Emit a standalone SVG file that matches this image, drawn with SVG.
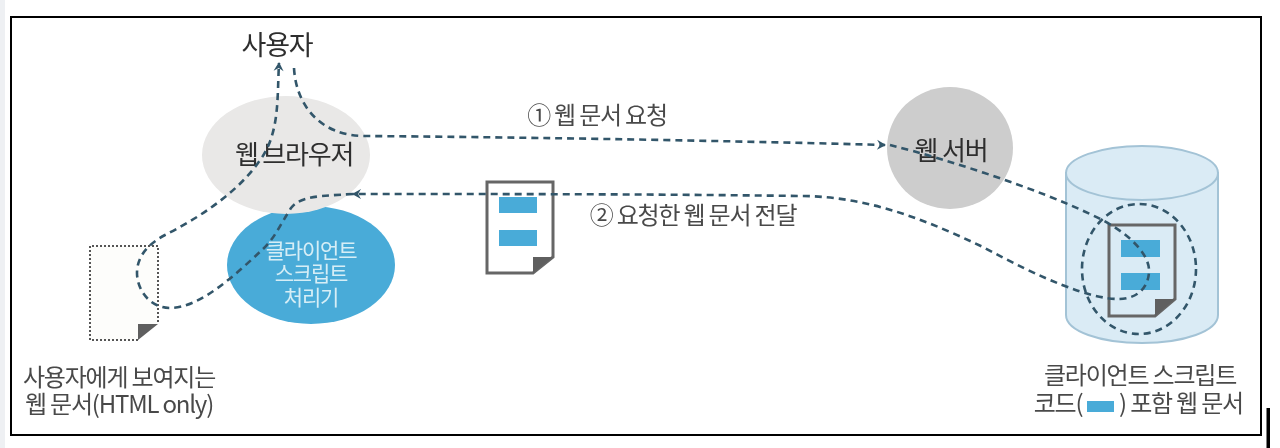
<svg xmlns="http://www.w3.org/2000/svg" width="1280" height="448" viewBox="0 0 1280 448">
<style>
text{font-family:"Noto Sans CJK KR","Noto Sans",sans-serif;text-anchor:middle;fill:#4a4a4a;font-size:24px;letter-spacing:-1.2px}
.d{fill:#2f2f2f;font-size:27px}
.m{fill:#2f2f2f;font-size:26px}
.w{fill:#d6eef6;font-size:21px}
.c{fill:none;stroke:#33566a;stroke-width:2.6;stroke-dasharray:7 5}
.doc{fill:#fff;stroke:#666;stroke-width:3}
.b{fill:#4aabd8}
.f{fill:#5f5f5f}
</style>
<defs>
<marker id="a" viewBox="0 0 12 12" refX="9" refY="6" markerWidth="12" markerHeight="12" markerUnits="userSpaceOnUse" orient="auto"><path d="M1 1L10 6L1 11L4 6Z" fill="#33566a"/></marker>
<filter id="soft" x="0" y="0" width="100%" height="100%"><feGaussianBlur stdDeviation="0.6"/></filter>
</defs>
<rect width="1280" height="448" fill="#fff"/>
<rect x="0" y="0" width="5" height="448" fill="#eef0f3"/>
<rect x="11" y="17" width="1250" height="418" fill="#fff" stroke="#000" stroke-width="2"/>
<rect x="1266.5" y="408" width="3.5" height="40" fill="#000"/>
<g filter="url(#soft)">
<g id="client-engine"><ellipse cx="311" cy="265" rx="84" ry="59" fill="#4aabd8"/>
<text class="w" x="311" y="258">클라이언트</text><text class="w" x="311" y="281">스크립트</text><text class="w" x="311" y="305">처리기</text></g>
<g id="browser"><ellipse cx="286" cy="155" rx="84" ry="59" fill="#e9e8e7"/><text class="m" x="294" y="164">웹 브라우저</text></g>
<g id="user"><text class="d" x="277" y="55">사용자</text></g>
<g id="server"><ellipse cx="950" cy="148" rx="63" ry="61" fill="#cdcdcd"/><text class="m" x="951" y="160">웹 서버</text></g>
<g id="page"><path d="M138 340H90V246H158V324" fill="#fdfdfb" stroke="#555" stroke-width="2" stroke-dasharray="2 2"/><path class="f" d="M138 340V324H158Z"/></g>
<g id="caption-page"><text x="119" y="386">사용자에게 보여지는</text><text x="119" y="413">웹 문서(HTML only)</text></g>
<g id="doc-middle"><path class="doc" d="M487 182H553V257L533 273H487Z"/><path class="f" d="M533 273V257H553Z"/><rect class="b" x="499" y="197" width="38" height="16"/><rect class="b" x="499" y="230" width="38" height="16"/></g>
<g id="label-1"><text x="597" y="124">① 웹 문서 요청</text></g>
<g id="label-2"><text x="693" y="224">② 요청한 웹 문서 전달</text></g>
<g id="database"><path d="M1066 173V315C1066 331 1100 343 1142 343S1218 331 1218 315V173Z" fill="#daebf5" stroke="#a3c3d6" stroke-width="2"/><ellipse cx="1142" cy="173" rx="76" ry="27" fill="#daebf5" stroke="#a3c3d6" stroke-width="2"/>
<path d="M1109 225H1175V299L1155 316H1109Z" fill="#daebf5" stroke="#666" stroke-width="3"/><path class="f" d="M1155 316V299H1175Z"/><rect class="b" x="1121" y="240" width="39" height="17"/><rect class="b" x="1121" y="273" width="39" height="17"/></g>
<g id="caption-db"><text x="1140" y="384">클라이언트 스크립트</text><text x="1058" y="412">코드(</text><rect class="b" x="1087" y="401" width="27" height="11"/><text x="1181" y="412">) 포함 웹 문서</text></g>
<g id="connectors">
<path class="c" d="M294 68C296 105 320 136 365 136C500 137 700 140 885 145" marker-end="url(#a)"/>
<path class="c" d="M890 145C950 160 1040 190 1090 214C1130 232 1150 255 1149 272C1148 290 1135 299 1118 299C1090 299 1040 278 983 247C930 222 870 196 800 196C650 194 500 194 353 194" marker-end="url(#a)"/>
<path class="c" d="M353 194C320 196 300 196 291 208C280 225 275 238 262 250C235 275 200 308 170 308C150 308 137 290 137 273C137 255 150 243 165 235C195 220 235 195 258 163C280 135 277 100 279 63" marker-end="url(#a)"/>
<ellipse class="c" cx="1139" cy="269" rx="57" ry="65"/>
</g>
</g>
</svg>
